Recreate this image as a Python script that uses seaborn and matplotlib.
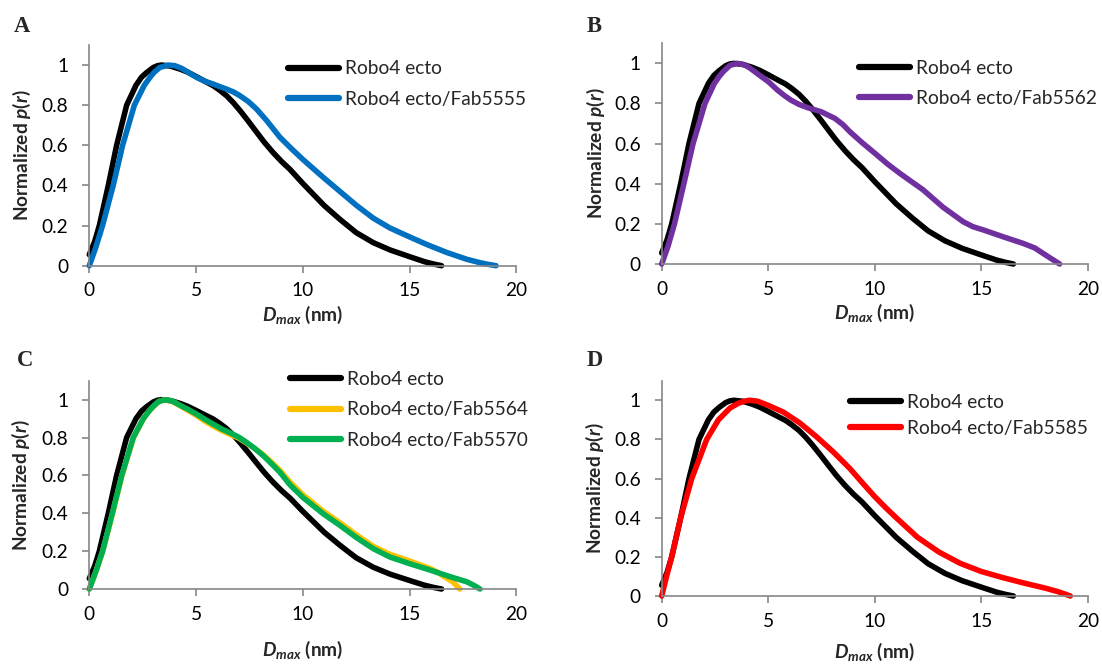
import matplotlib
matplotlib.use("Agg")
import matplotlib.pyplot as plt
import seaborn as sns
import pandas as pd

# ---------------- data ----------------
robo4_r = [0, 0.25, 0.47, 0.89, 1.28, 1.75, 2.19, 2.45, 2.69, 3.0, 3.2, 3.39, 3.8, 4.25,
           4.6, 5.0, 5.4, 5.81, 6.1, 6.43, 6.75, 7.06, 7.45, 7.84, 8.2, 8.6, 9.0, 9.4, 10.0,
           10.5, 11.0, 11.75, 12.5, 13.3, 14.1, 15.0, 15.7, 16.1, 16.5]
robo4_p = [0.055, 0.12, 0.2, 0.4, 0.6, 0.8, 0.9, 0.94, 0.963, 0.988, 0.997, 1.0, 0.995, 0.98,
           0.965, 0.943, 0.92, 0.897, 0.875, 0.847, 0.812, 0.773, 0.72, 0.665, 0.615, 0.565,
           0.52, 0.48, 0.41, 0.355, 0.30, 0.23, 0.165, 0.115, 0.078, 0.045, 0.02, 0.009, 0.0]

fab5555_r = [0, 0.3, 0.62, 1.12, 1.56, 2.11, 2.58, 2.85, 3.03, 3.3, 3.7, 4.0, 4.3, 4.65,
             5.0, 5.4, 5.81, 6.1, 6.43, 6.75, 7.06, 7.45, 7.84, 8.31, 8.93, 9.5, 10.0, 10.5,
             10.96, 11.74, 12.52, 13.3, 14.08, 14.97, 15.8, 16.74, 17.68, 18.3, 18.61, 19.05]
fab5555_p = [0, 0.09, 0.2, 0.4, 0.6, 0.8, 0.9, 0.94, 0.963, 0.988, 1.0, 0.997, 0.985, 0.963,
             0.94, 0.92, 0.905, 0.893, 0.88, 0.866, 0.847, 0.818, 0.78, 0.723, 0.64, 0.58,
             0.53, 0.483, 0.44, 0.37, 0.30, 0.237, 0.188, 0.145, 0.106, 0.066, 0.032, 0.015,
             0.008, 0.0]

fab5562_r = [0, 0.3, 0.60, 1.04, 1.47, 2.03, 2.47, 2.7, 2.9, 3.2, 3.56, 3.9, 4.16, 4.6, 5.0,
             5.43, 5.75, 6.06, 6.45, 6.85, 7.48, 8.12, 8.5, 8.83, 9.4, 10.0, 10.6, 11.17,
             12.27, 13.2, 14.14, 14.6, 15.11, 16.01, 16.95, 17.5, 17.89, 18.3, 18.67]
fab5562_p = [0, 0.09, 0.2, 0.4, 0.6, 0.8, 0.9, 0.935, 0.96, 0.99, 1.0, 0.992, 0.975, 0.94,
             0.909, 0.867, 0.84, 0.817, 0.795, 0.779, 0.759, 0.726, 0.695, 0.659, 0.605,
             0.552, 0.498, 0.452, 0.369, 0.283, 0.211, 0.186, 0.169, 0.136, 0.103, 0.08,
             0.053, 0.025, 0.0]

fab5564_r = [0, 0.3, 0.63, 1.09, 1.53, 2.07, 2.54, 2.8, 3.0, 3.25, 3.55, 3.9, 4.25, 4.6,
             5.0, 5.4, 5.81, 6.2, 6.59, 7.0, 7.38, 7.75, 8.16, 8.55, 8.94, 9.4, 10.0, 10.96,
             11.74, 12.52, 13.3, 14.08, 14.97, 15.96, 16.3, 16.59, 17.0, 17.36]
fab5564_p = [0, 0.09, 0.2, 0.4, 0.6, 0.8, 0.9, 0.94, 0.963, 0.99, 1.0, 0.99, 0.968, 0.945,
             0.918, 0.888, 0.86, 0.837, 0.817, 0.797, 0.77, 0.742, 0.708, 0.668, 0.625,
             0.565, 0.498, 0.41, 0.35, 0.285, 0.225, 0.183, 0.149, 0.108, 0.09, 0.068, 0.04, 0.0]

fab5570_r = [0, 0.3, 0.625, 1.08, 1.52, 2.06, 2.53, 2.8, 3.0, 3.25, 3.55, 3.9, 4.25, 4.6,
             5.0, 5.4, 5.81, 6.2, 6.59, 7.0, 7.38, 7.75, 8.16, 8.55, 8.94, 9.4, 10.0, 10.96,
             11.74, 12.52, 13.3, 14.08, 14.97, 15.96, 16.9, 17.68, 18.0, 18.3]
fab5570_p = [0, 0.09, 0.2, 0.4, 0.6, 0.8, 0.9, 0.94, 0.965, 0.99, 1.0, 0.992, 0.97, 0.95,
             0.925, 0.897, 0.87, 0.845, 0.825, 0.802, 0.773, 0.742, 0.703, 0.66, 0.615,
             0.55, 0.484, 0.397, 0.336, 0.271, 0.213, 0.169, 0.135, 0.10, 0.065, 0.038, 0.02, 0.0]

fab5585_r = [0, 0.25, 0.47, 0.89, 1.41, 2.11, 2.66, 3.2, 3.6, 3.9, 4.14, 4.5, 5.0, 5.7,
             6.48, 7.27, 8.05, 8.83, 9.4, 10.0, 10.5, 11.0, 12.0, 13.0, 14.0, 15.0, 16.0,
             17.0, 18.0, 18.6, 19.17]
fab5585_p = [0, 0.11, 0.2, 0.4, 0.6, 0.8, 0.9, 0.96, 0.985, 0.996, 1.0, 0.995, 0.974, 0.94,
             0.884, 0.813, 0.736, 0.651, 0.58, 0.507, 0.452, 0.40, 0.30, 0.225, 0.167, 0.125,
             0.094, 0.066, 0.04, 0.022, 0.0]

series_data = {
    "Robo4 ecto": (robo4_r, robo4_p),
    "Robo4 ecto/Fab5555": (fab5555_r, fab5555_p),
    "Robo4 ecto/Fab5562": (fab5562_r, fab5562_p),
    "Robo4 ecto/Fab5564": (fab5564_r, fab5564_p),
    "Robo4 ecto/Fab5570": (fab5570_r, fab5570_p),
    "Robo4 ecto/Fab5585": (fab5585_r, fab5585_p),
}
colors = {
    "Robo4 ecto": "#000000",
    "Robo4 ecto/Fab5555": "#0070C0",
    "Robo4 ecto/Fab5562": "#7030A0",
    "Robo4 ecto/Fab5564": "#FFC000",
    "Robo4 ecto/Fab5570": "#00B050",
    "Robo4 ecto/Fab5585": "#FF0000",
}
panel_letters = ["A", "B", "C", "D"]
panel_series = [
    ["Robo4 ecto", "Robo4 ecto/Fab5555"],
    ["Robo4 ecto", "Robo4 ecto/Fab5562"],
    ["Robo4 ecto", "Robo4 ecto/Fab5564", "Robo4 ecto/Fab5570"],
    ["Robo4 ecto", "Robo4 ecto/Fab5585"],
]
x_ticks = [0, 5, 10, 15, 20]
x_tick_labels = ["0", "5", "10", "15", "20"]
y_ticks = [0, 0.2, 0.4, 0.6, 0.8, 1.0]
y_tick_labels = ["0", "0.2", "0.4", "0.6", "0.8", "1"]
x_label = r"$\mathit{D}_{\mathit{max}}$ (nm)"
y_label = r"Normalized $\mathit{p(r)}$"

# ---------------- style ----------------
sns.set_style("ticks")
plt.rcParams["font.family"] = ["Lato", "DejaVu Sans"]
plt.rcParams["mathtext.fontset"] = "custom"
plt.rcParams["mathtext.it"] = "Lato:italic:bold"
plt.rcParams["mathtext.rm"] = "Lato:bold"
plt.rcParams["mathtext.bf"] = "Lato:bold"

W, H = 1102, 664
fig = plt.figure(figsize=(W / 100, H / 100), dpi=100)
FS = 13.8
GRAY = "#868686"

# axes boxes in pixels: left, right, top, bottom
boxes = [
    (89.3, 516.3, 45.0, 265.7),
    (661.7, 1088.0, 43.3, 264.0),
    (89.3, 516.3, 380.7, 589.0),
    (661.7, 1088.0, 380.7, 596.0),
]
# legend: handle start x, top y, labelspacing
legend_pos = [(288.0, 60.5, 0.7), (859.0, 59.5, 0.7), (290.0, 371.0, 0.7), (850.0, 394.0, 0.48)]
xlabel_y = [-0.2234, -0.2234, -0.293, -0.259]
ylabel_x = [-0.1567, -0.1544, -0.159, -0.156]
letter_pos = [(13.6, 31.7), (587.0, 31.7), (17.1, 366.0), (587.0, 366.0)]

for i, (l, r, t, b) in enumerate(boxes):
    ax = fig.add_axes([l / W, 1 - b / H, (r - l) / W, (b - t) / H])
    names = panel_series[i]
    frames = []
    for name in names:
        rr, pp = series_data[name]
        frames.append(pd.DataFrame({"r": rr, "p": pp, "series": name}))
    df = pd.concat(frames, ignore_index=True)
    sns.lineplot(data=df, x="r", y="p", hue="series", hue_order=names,
                 palette=colors, estimator=None, sort=False, linewidth=4.0,
                 legend=False, ax=ax)
    lines = ax.get_lines()
    for ln in lines:
        ln.set_clip_on(False)
        ln.set_solid_capstyle("round")
        ln.set_solid_joinstyle("round")
    ax.set_xlim(0, 20)
    ax.set_ylim(0, 1.1)
    ax.set_xticks(x_ticks, x_tick_labels)
    ax.set_yticks(y_ticks, y_tick_labels)
    for side in ["top", "right"]:
        ax.spines[side].set_visible(False)
    for side in ["left", "bottom"]:
        ax.spines[side].set_color(GRAY)
        ax.spines[side].set_linewidth(1.2)
    ax.tick_params(axis="both", direction="out", length=5, width=1.2, color=GRAY,
                   labelsize=FS, labelcolor="black")
    ax.tick_params(axis="y", pad=10)
    ax.tick_params(axis="x", pad=7)
    ax.set_xlabel(x_label, fontsize=FS, fontweight="bold", va="center")
    ax.set_ylabel(y_label, fontsize=FS, fontweight="bold", va="center")
    ax.xaxis.set_label_coords(0.5, xlabel_y[i])
    ax.yaxis.set_label_coords(ylabel_x[i], 0.5)

    lx, ly, ls = legend_pos[i]
    leg = ax.legend(lines, names, loc="upper left",
                    bbox_to_anchor=(lx / W, 1 - ly / H), bbox_transform=fig.transFigure,
                    frameon=False, fontsize=FS, handlelength=2.65, handletextpad=0.33,
                    labelspacing=ls, borderpad=0, borderaxespad=0)
    for hl in leg.get_lines():
        hl.set_linewidth(4.5)
        hl.set_solid_capstyle("round")

    lx_, ly_ = letter_pos[i]
    fig.text(lx_ / W, 1 - ly_ / H, panel_letters[i], fontsize=16.3, fontweight="bold",
             family=["Liberation Serif", "DejaVu Serif"], ha="left", va="baseline")

fig.savefig("out.png", dpi=100)
